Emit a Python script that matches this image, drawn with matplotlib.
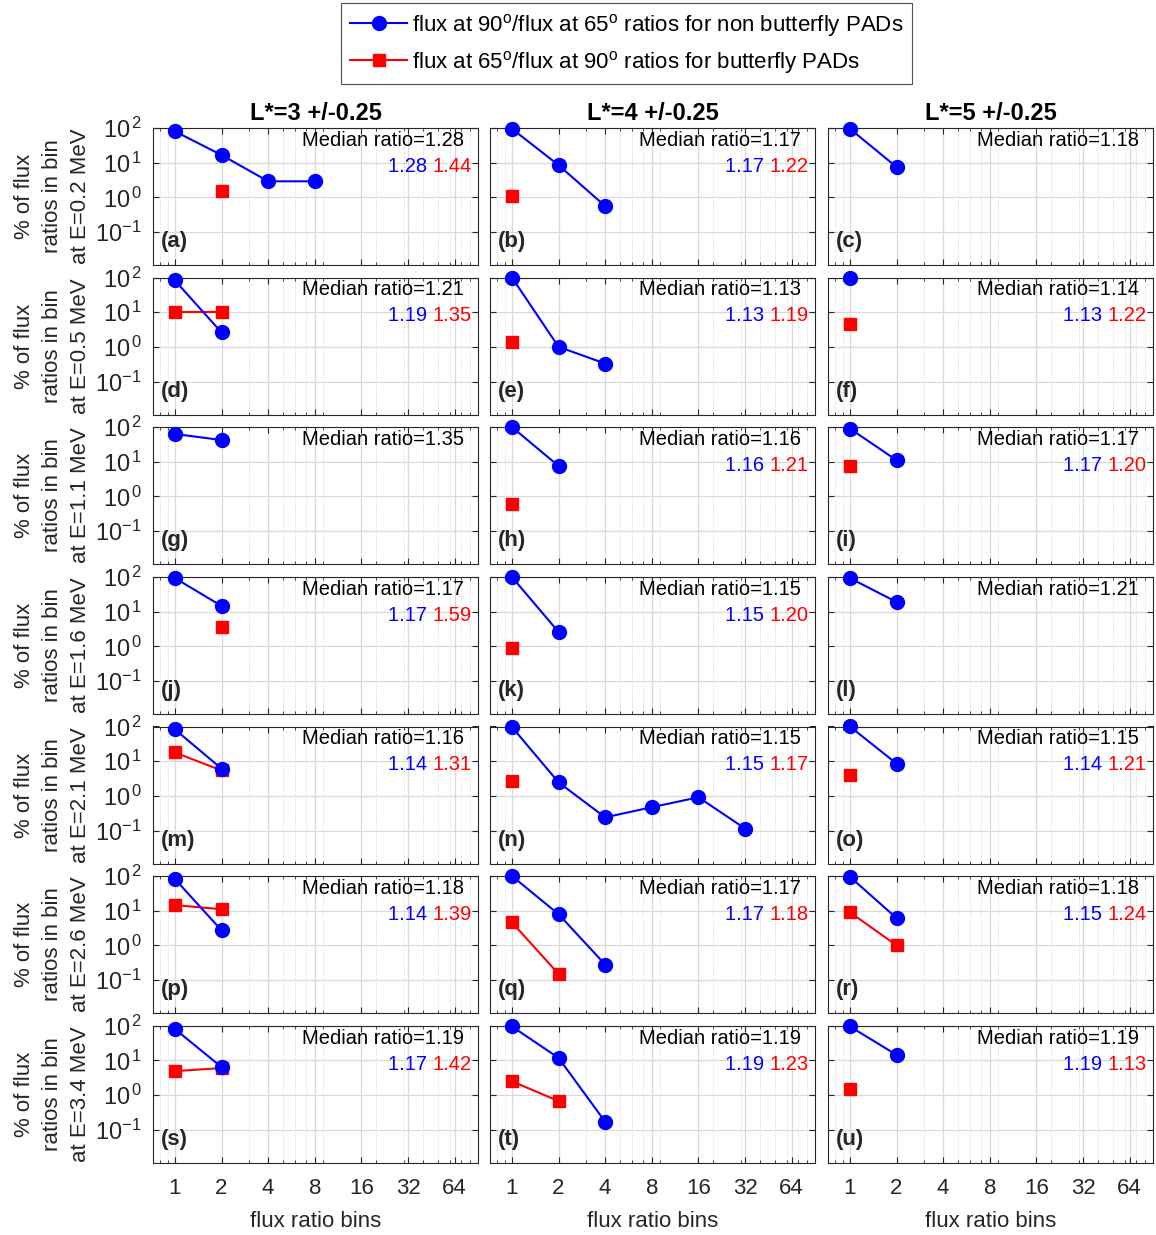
import numpy as np
import matplotlib
matplotlib.use("Agg")
import matplotlib.pyplot as plt
from matplotlib.ticker import FixedLocator, LogLocator, NullFormatter, FixedFormatter
from matplotlib.lines import Line2D

plt.rcParams['font.family'] = ['Liberation Sans', 'DejaVu Sans']
plt.rcParams['mathtext.fontset'] = 'custom'
plt.rcParams['mathtext.rm'] = 'Liberation Sans'
plt.rcParams['mathtext.it'] = 'Liberation Sans'
plt.rcParams['mathtext.bf'] = 'Liberation Sans:bold'

# ---------------- data ----------------
panel_ids = list("abcdefghijklmnopqrstu")
energies = ["0.2", "0.5", "1.1", "1.6", "2.1", "2.6", "3.4"]
lshells = ["3", "4", "5"]
bins = [1, 2, 4, 8, 16, 32, 64]
nan = np.nan

blue_pct = [
    [80, 16.6, 2.9, 2.9], [95, 8.5, 0.56], [95, 7.5],
    [82, 2.6], [100, 1.0, 0.33], [100],
    [63, 42], [100, 7.5], [90, 11],
    [93, 14.6], [100, 2.6], [93, 19],
    [82, 6.1], [97, 2.45, 0.24, 0.47, 0.91, 0.114], [100, 8.5],
    [82, 2.7], [100, 7.9, 0.28], [95, 6.1],
    [80, 6.4], [95, 11.8, 0.17], [95, 14.4],
]
red_pct = [
    [nan, 1.5], [1.1], [],
    [9.8, 9.8], [1.35], [4.7],
    [], [0.6], [7.5],
    [nan, 3.6], [0.9], [],
    [17.8, 5.4], [2.7], [4.0],
    [14.5, 11], [4.6, 0.15], [9.0, 1.0],
    [4.9, 6.0], [2.5, 0.67], [1.5],
]
median_ratio = [1.28, 1.17, 1.18, 1.21, 1.13, 1.14, 1.35, 1.16, 1.17,
                1.17, 1.15, 1.21, 1.16, 1.15, 1.15, 1.18, 1.17, 1.18,
                1.19, 1.19, 1.19]
blue_median = [1.28, 1.17, None, 1.19, 1.13, 1.13, None, 1.16, 1.17,
               1.17, 1.15, None, 1.14, 1.15, 1.14, 1.14, 1.17, 1.15,
               1.17, 1.19, 1.19]
red_median = [1.44, 1.22, None, 1.35, 1.19, 1.22, None, 1.21, 1.20,
              1.59, 1.20, None, 1.31, 1.17, 1.21, 1.39, 1.18, 1.24,
              1.42, 1.23, 1.13]
yticks = [0.1, 1, 10, 100]
ytick_labels = [r"$10^{-1}$", r"$10^{\,0}$", r"$10^{\,1}$", r"$10^{\,2}$"]

# ---------------- layout ----------------
W, H = 1156, 1235
fig = plt.figure(figsize=(W / 100, H / 100), dpi=100)
col_left = [153, 490, 828]
ax_w = 325
row_top = [128, 277.5, 427, 577, 726.5, 876, 1025.7]
ax_h = 137

GRID = (0.85, 0.85, 0.85)
TXT = (0.15, 0.15, 0.15)

for r in range(7):
    for c in range(3):
        k = r * 3 + c
        left = col_left[c] / W
        bottom = 1 - (row_top[r] + ax_h) / H
        ax = fig.add_axes([left, bottom, ax_w / W, ax_h / H])
        ax.set_xscale('log')
        ax.set_yscale('log')
        ax.set_xlim(2 ** -0.47, 2 ** 6.5)
        ax.set_ylim(0.0112, 100)

        ax.xaxis.set_major_locator(FixedLocator(bins))
        ax.xaxis.set_minor_locator(LogLocator(base=10, subs=np.arange(2, 10)))
        ax.xaxis.set_minor_formatter(NullFormatter())
        ax.yaxis.set_major_locator(FixedLocator(yticks))
        ax.yaxis.set_minor_locator(LogLocator(base=10, subs=np.arange(2, 10)))
        ax.yaxis.set_minor_formatter(NullFormatter())

        ax.grid(True, which='major', color=GRID, lw=0.9, ls='-')
        ax.grid(True, which='minor', color=(0.78, 0.78, 0.78), lw=0.6, ls=(0, (1, 2)))
        ax.set_axisbelow(True)
        ax.tick_params(which='both', direction='in', top=True, right=True,
                       colors=TXT, labelsize=16)
        ax.tick_params(axis='y', labelsize=17, pad=8)
        ax.tick_params(which='major', length=4)
        ax.tick_params(which='minor', length=2)
        for s in ax.spines.values():
            s.set_color(TXT)
            s.set_linewidth(0.8)

        if c == 0:
            ax.yaxis.set_major_formatter(FixedFormatter(ytick_labels))
            ax.set_ylabel("% of flux\nratios in bin\nat E=" + energies[r] + " MeV",
                          fontsize=16, color=TXT, linespacing=1.45, labelpad=3)
        else:
            ax.set_yticklabels([])
        if r == 6:
            ax.set_xticklabels([str(b) for b in bins])
            ax.tick_params(axis='x', pad=11)
            ax.set_xlabel("flux ratio bins", fontsize=16, color=TXT, labelpad=9)
        else:
            ax.set_xticklabels([])
        if r == 0:
            ax.set_title("L*=" + lshells[c] + " +/-0.25", fontsize=17,
                         fontweight='bold', pad=6)

        bv = blue_pct[k]
        ax.plot(bins[:len(bv)], bv, color='blue', lw=1.5, marker='o',
                ms=10, clip_on=False, zorder=5)
        rv = red_pct[k]
        if len(rv):
            ax.plot(bins[:len(rv)], rv, color='red', lw=1.5, marker='s',
                    ms=8, clip_on=False, zorder=4)

        ax.text(0.957, 0.91, "Median ratio=%.2f" % median_ratio[k],
                transform=ax.transAxes, ha='right', va='center',
                fontsize=14.5, color='black', zorder=6)
        if red_median[k] is not None:
            t_red = ax.text(0.98, 0.72, "%.2f" % red_median[k],
                            transform=ax.transAxes, ha='right', va='center',
                            fontsize=14.5, color='red', zorder=6)
            ax.annotate("%.2f " % blue_median[k], xy=(0, 0.5),
                        xycoords=t_red, ha='right', va='center',
                        fontsize=14.5, color='blue', zorder=6)
        ax.text(0.025, 0.17, "(" + panel_ids[k] + ")", transform=ax.transAxes,
                ha='left', va='center', fontsize=16, fontweight='bold',
                color=TXT, zorder=6)

handles = [
    Line2D([], [], color='blue', lw=1.5, marker='o', ms=10),
    Line2D([], [], color='red', lw=1.5, marker='s', ms=8),
]
labels = [
    "flux at 90$^{o}$/flux at 65$^{o}$ ratios for non butterfly PADs",
    "flux at 65$^{o}$/flux at 90$^{o}$ ratios for butterfly PADs",
]
leg = fig.legend(handles, labels, loc='center',
                 bbox_to_anchor=(626.5 / W, 1 - 43.5 / H), fontsize=16,
                 frameon=True, fancybox=False, edgecolor=TXT,
                 handlelength=2.6, handletextpad=0.2, borderpad=0.4,
                 labelspacing=0.45)
leg.get_frame().set_linewidth(0.8)

fig.savefig("out.png", dpi=100)
